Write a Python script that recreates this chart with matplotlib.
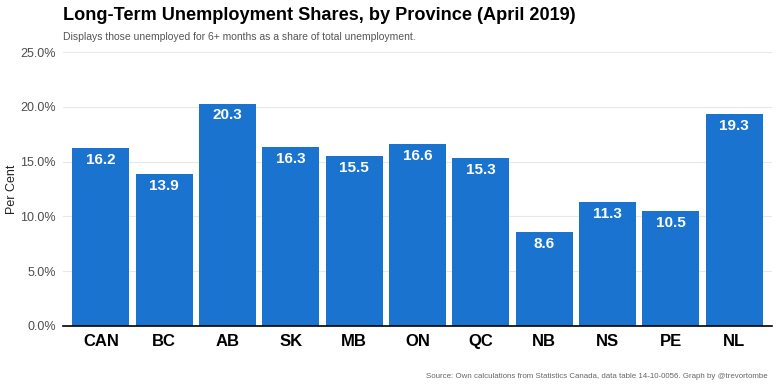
import matplotlib
matplotlib.use("Agg")
import matplotlib.pyplot as plt
from matplotlib.ticker import FuncFormatter

provinces = ["CAN", "BC", "AB", "SK", "MB", "ON", "QC", "NB", "NS", "PE", "NL"]
shares = [16.2, 13.9, 20.3, 16.3, 15.5, 16.6, 15.3, 8.6, 11.3, 10.5, 19.3]
yticks = [0, 5, 10, 15, 20, 25]

plt.rcParams['font.family'] = ['Liberation Sans', 'DejaVu Sans']

fig = plt.figure(figsize=(7.8, 3.9), dpi=100)
ax = fig.add_axes([63 / 780, 64 / 390, 709 / 780, 274 / 390])

bar_color = "#1a73cf"
ax.bar(range(len(provinces)), shares, width=0.9, color=bar_color, zorder=2)
for i, v in enumerate(shares):
    ax.text(i, v - 0.45, f"{v:.1f}", ha="center", va="top", color="white",
            fontsize=11, fontweight="bold", zorder=3)

ax.set_xlim(-0.6, len(provinces) - 0.4)
ax.set_ylim(0, 25)
ax.set_yticks(yticks)
ax.yaxis.set_major_formatter(FuncFormatter(lambda v, p: f"{v:.1f}%"))
ax.set_xticks(range(len(provinces)))
ax.set_xticklabels(provinces, fontsize=12, fontweight="bold", color="black")
ax.tick_params(axis="y", labelsize=9, labelcolor="#4d4d4d", length=0, pad=5)
ax.tick_params(axis="x", length=0, pad=6)
ax.grid(axis="y", color="#e8e8e8", linewidth=0.8, zorder=0)
for s in ["top", "right", "left"]:
    ax.spines[s].set_visible(False)
ax.spines["bottom"].set_color("black")
ax.spines["bottom"].set_linewidth(1.2)
ax.spines["bottom"].set_zorder(4)
ax.set_ylabel("Per Cent", fontsize=9, color="#222222")
ax.yaxis.set_label_coords(-45 / 709, 0.5)

fig.text(63 / 780, 1 - 16 / 390, "Long-Term Unemployment Shares, by Province (April 2019)",
         fontsize=13.1, fontweight="bold", color="black", ha="left", va="center")
fig.text(63 / 780, 1 - 37 / 390, "Displays those unemployed for 6+ months as a share of total unemployment.",
         fontsize=7.5, color="#555555", ha="left", va="center")
fig.text(768 / 780, 1 - 377 / 390, "Source: Own calculations from Statistics Canada, data table 14-10-0056. Graph by @trevortombe",
         fontsize=5.7, color="#666666", ha="right", va="center")

fig.savefig("out.png", dpi=100)
